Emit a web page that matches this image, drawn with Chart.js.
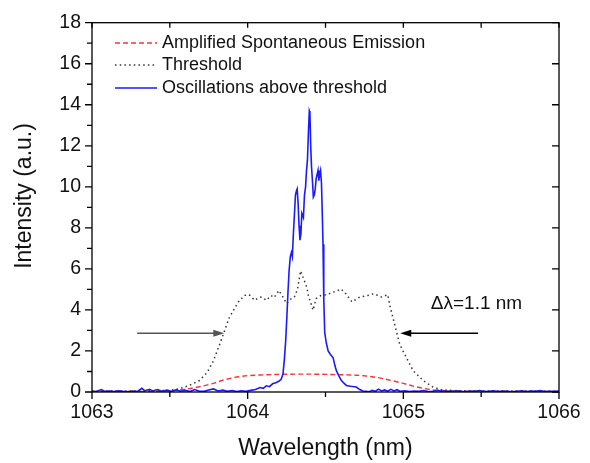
<!DOCTYPE html>
<html>
<head>
<meta charset="utf-8">
<script src="https://cdn.jsdelivr.net/npm/chart.js@4"></script>
<style>
  html, body { margin: 0; padding: 0; background: #fff; }
  #wrap { width: 590px; height: 463px; }
</style>
</head>
<body>
<div id="wrap"><canvas id="myChart" width="590" height="463"></canvas></div>
<script>
// wavelength (nm) / intensity (a.u.)
const aseX = [1063.0, 1063.4, 1063.55, 1063.63, 1063.7, 1063.78, 1063.85, 1063.93, 1064.0, 1064.08, 1064.2, 1064.3, 1064.4, 1064.5, 1064.6, 1064.7, 1064.76, 1064.84, 1064.93, 1065.0, 1065.07, 1065.14, 1065.2, 1065.3, 1065.5, 1066.0];
const aseY = [0.02, 0.03, 0.08, 0.17, 0.27, 0.42, 0.6, 0.73, 0.8, 0.83, 0.86, 0.87, 0.87, 0.86, 0.84, 0.82, 0.78, 0.7, 0.55, 0.42, 0.27, 0.16, 0.09, 0.05, 0.03, 0.02];

const thrX = [1063.0, 1063.2, 1063.4, 1063.5, 1063.56, 1063.62, 1063.69, 1063.74, 1063.78, 1063.82, 1063.85, 1063.88, 1063.91, 1063.94, 1063.98, 1064.01, 1064.045, 1064.07, 1064.09, 1064.12, 1064.15, 1064.17, 1064.2, 1064.22, 1064.25, 1064.28, 1064.3, 1064.32, 1064.34, 1064.36, 1064.38, 1064.39, 1064.41, 1064.42, 1064.44, 1064.47, 1064.51, 1064.55, 1064.58, 1064.6, 1064.63, 1064.67, 1064.72, 1064.77, 1064.81, 1064.86, 1064.9, 1064.913, 1064.945, 1064.977, 1065.02, 1065.063, 1065.127, 1065.19, 1065.25, 1065.35, 1065.5, 1066.0];
const thrY = [0.05, 0.04, 0.06, 0.08, 0.16, 0.3, 0.56, 0.95, 1.52, 2.32, 2.95, 3.59, 4.0, 4.39, 4.71, 4.74, 4.47, 4.6, 4.63, 4.47, 4.7, 4.6, 4.95, 4.71, 4.31, 4.55, 4.63, 5.0, 5.9, 5.5, 5.1, 4.7, 4.23, 3.99, 4.55, 4.7, 4.75, 4.87, 4.95, 5.02, 4.79, 4.39, 4.63, 4.7, 4.79, 4.63, 4.74, 4.23, 3.27, 2.32, 1.67, 1.04, 0.56, 0.24, 0.1, 0.06, 0.05, 0.04];

const oscX = [1063.0, 1063.03, 1063.06, 1063.08, 1063.11, 1063.14, 1063.17, 1063.2, 1063.23, 1063.26, 1063.29, 1063.32, 1063.34, 1063.37, 1063.39, 1063.42, 1063.45, 1063.48, 1063.51, 1063.54, 1063.57, 1063.6, 1063.63, 1063.66, 1063.69, 1063.72, 1063.75, 1063.78, 1063.81, 1063.84, 1063.87, 1063.9, 1063.93, 1063.96, 1063.99, 1064.02, 1064.05, 1064.08, 1064.1, 1064.12, 1064.14, 1064.16, 1064.18, 1064.2, 1064.215, 1064.227, 1064.236, 1064.244, 1064.252, 1064.259, 1064.266, 1064.274, 1064.281, 1064.287, 1064.293, 1064.3, 1064.307, 1064.313, 1064.318, 1064.324, 1064.33, 1064.336, 1064.342, 1064.348, 1064.353, 1064.358, 1064.365, 1064.372, 1064.378, 1064.384, 1064.39, 1064.396, 1064.4, 1064.405, 1064.41, 1064.416, 1064.422, 1064.428, 1064.434, 1064.44, 1064.446, 1064.452, 1064.457, 1064.462, 1064.468, 1064.474, 1064.479, 1064.484, 1064.489, 1064.495, 1064.505, 1064.517, 1064.53, 1064.549, 1064.56, 1064.57, 1064.585, 1064.602, 1064.62, 1064.634, 1064.66, 1064.698, 1064.72, 1064.74, 1064.76, 1064.78, 1064.8, 1064.82, 1064.84, 1064.86, 1064.88, 1064.9, 1064.92, 1064.94, 1064.96, 1064.98, 1065.01, 1065.04, 1065.07, 1065.1, 1065.13, 1065.16, 1065.19, 1065.22, 1065.25, 1065.28, 1065.31, 1065.34, 1065.37, 1065.4, 1065.43, 1065.46, 1065.49, 1065.52, 1065.55, 1065.58, 1065.61, 1065.64, 1065.67, 1065.7, 1065.73, 1065.76, 1065.79, 1065.82, 1065.85, 1065.88, 1065.91, 1065.94, 1065.97, 1066.0];
const oscY = [0.03, 0.02, 0.12, 0.04, 0.05, 0.02, 0.06, 0.03, 0.01, 0.04, 0.02, 0.18, 0.06, 0.13, 0.05, 0.12, 0.04, 0.09, 0.03, 0.1, 0.04, 0.08, 0.02, 0.12, 0.04, 0.03, 0.1, 0.15, 0.05, 0.09, 0.03, 0.07, 0.02, 0.06, 0.03, 0.08, 0.12, 0.22, 0.18, 0.3, 0.26, 0.4, 0.45, 0.52, 0.62, 0.88, 1.6, 2.47, 3.7, 4.87, 5.9, 6.6, 6.8, 6.6, 7.6, 8.6, 9.6, 9.8, 9.9, 9.2, 8.1, 7.4, 7.7, 8.7, 8.6, 8.5, 9.6, 10.0, 10.8, 11.3, 12.6, 13.7, 13.6, 12.0, 11.0, 10.3, 9.5, 9.6, 9.9, 10.4, 10.6, 10.8, 10.3, 10.6, 10.8, 10.2, 8.8, 7.2, 4.5, 2.9, 2.4, 2.0, 1.85, 1.67, 1.3, 1.04, 0.8, 0.56, 0.42, 0.32, 0.28, 0.24, 0.12, 0.05, 0.04, 0.01, 0.08, 0.03, 0.14, 0.05, 0.1, 0.04, 0.13, 0.05, 0.11, 0.03, 0.06, 0.02, 0.05, 0.03, 0.07, 0.02, 0.04, 0.08, 0.03, 0.05, 0.02, 0.06, 0.04, 0.01, 0.05, 0.03, 0.07, 0.02, 0.04, 0.06, 0.02, 0.05, 0.03, 0.01, 0.04, 0.06, 0.02, 0.05, 0.03, 0.07, 0.02, 0.04, 0.03, 0.05, 0.02];

const seriesNames = ['Amplified Spontaneous Emission', 'Threshold', 'Oscillations above threshold'];
const xTicks = [1063, 1064, 1065, 1066];
const yTicks = [0, 2, 4, 6, 8, 10, 12, 14, 16, 18];
const yTitle = 'Intensity (a.u.)';
const widthLabel = '\u0394\u03bb=1.1 nm';
// arrows marking the threshold width: [from, to] in wavelength, at height
const arrowLeft = [1063.29, 1063.85];
const arrowRight = [1065.48, 1064.98];
const arrowY = 2.86;

const FONT = "'Liberation Sans', Arial, sans-serif";

const toPts = (xs, ys) => xs.map((x, i) => ({x: x, y: ys[i]}));

// frame, ticks, legend and annotation
const decor = {
    id: 'decor',
    afterDraw(chart) {
        const ctx = chart.ctx;
        const xs = chart.scales.x, ys = chart.scales.y;
        const a = chart.chartArea;
        ctx.save();
        ctx.strokeStyle = '#000';
        ctx.lineWidth = 1.3;
        ctx.setLineDash([]);
        ctx.strokeRect(a.left, a.top, a.right - a.left, a.bottom - a.top);

        ctx.beginPath();
        for (let v = 1063; v <= 1066.001; v += 0.5) {
            const px = xs.getPixelForValue(v);
            const major = Math.abs(v - Math.round(v)) < 0.01;
            ctx.moveTo(px, a.bottom);
            ctx.lineTo(px, a.bottom + (major ? 7 : 5));
            ctx.moveTo(px, a.top);
            ctx.lineTo(px, a.top + 5);
        }
        for (let v = 0; v <= 18; v += 1) {
            const py = ys.getPixelForValue(v);
            const major = v % 2 === 0;
            ctx.moveTo(a.left, py);
            ctx.lineTo(a.left - (major ? 7 : 5), py);
            if (major) {
                ctx.moveTo(a.right, py);
                ctx.lineTo(a.right - 7, py);
            }
        }
        ctx.stroke();

        // y title (sits a little above the axis centre in the original)
        ctx.save();
        ctx.translate(25, 196);
        ctx.rotate(-Math.PI / 2);
        ctx.font = '23px ' + FONT;
        ctx.fillStyle = '#111';
        ctx.textAlign = 'center';
        ctx.textBaseline = 'middle';
        ctx.fillText(yTitle, 0, 0);
        ctx.restore();

        // legend
        ctx.font = '18px ' + FONT;
        ctx.textBaseline = 'middle';
        ctx.textAlign = 'left';
        const rows = [43, 65, 88];
        chart.data.datasets.forEach((ds, i) => {
            ctx.strokeStyle = ds.borderColor;
            ctx.lineWidth = ds.borderWidth;
            ctx.setLineDash(ds.borderDash || []);
            ctx.beginPath();
            ctx.moveTo(115, rows[i]);
            ctx.lineTo(157, rows[i]);
            ctx.stroke();
            ctx.fillStyle = '#111';
            ctx.fillText(ds.label, 162, rows[i]);
        });
        ctx.setLineDash([]);

        // arrows
        const arrow = (x0, x1, col) => {
            const p0 = xs.getPixelForValue(x0), p1 = xs.getPixelForValue(x1);
            const py = ys.getPixelForValue(arrowY);
            const dir = Math.sign(p1 - p0);
            ctx.strokeStyle = col;
            ctx.fillStyle = col;
            ctx.lineWidth = 1.4;
            ctx.beginPath();
            ctx.moveTo(p0, py);
            ctx.lineTo(p1 - dir * 8, py);
            ctx.stroke();
            ctx.beginPath();
            ctx.moveTo(p1, py);
            ctx.lineTo(p1 - dir * 11, py - 3.5);
            ctx.lineTo(p1 - dir * 11, py + 3.5);
            ctx.closePath();
            ctx.fill();
        };
        arrow(arrowLeft[0], arrowLeft[1], '#555');
        arrow(arrowRight[0], arrowRight[1], '#000');

        ctx.font = '19px ' + FONT;
        ctx.fillStyle = '#111';
        ctx.textAlign = 'center';
        ctx.fillText(widthLabel, xs.getPixelForValue(1065.47), ys.getPixelForValue(4.29));
        ctx.restore();
    }
};

const ctx = document.getElementById('myChart').getContext('2d');
const myChart = new Chart(ctx, {
    type: 'line',
    data: {
        datasets: [{
            label: seriesNames[0],
            data: toPts(aseX, aseY),
            borderColor: '#ff3030',
            borderWidth: 1.4,
            borderDash: [5, 3],
            order: 3
        }, {
            label: seriesNames[1],
            data: toPts(thrX, thrY),
            borderColor: '#333',
            borderWidth: 1.5,
            borderDash: [1.5, 3.2],
            order: 1
        }, {
            label: seriesNames[2],
            data: toPts(oscX, oscY),
            borderColor: '#1a1aff',
            borderWidth: 1.6,
            order: 2
        }]
    },
    options: {
        responsive: false,
        animation: false,
        elements: { point: { radius: 0 }, line: { tension: 0 } },
        layout: { padding: { top: 15, right: 31, left: 0, bottom: 0 } },
        plugins: { legend: { display: false }, tooltip: { enabled: false } },
        scales: {
            x: {
                type: 'linear',
                min: 1063, max: 1066,
                afterFit: (s) => { s.height = 71; },
                afterBuildTicks: (s) => { s.ticks = xTicks.map(v => ({value: v})); },
                grid: { display: false, drawTicks: false },
                border: { display: false },
                ticks: { padding: 9, color: '#111', font: { family: FONT, size: 19.5 }, callback: v => String(v) },
                title: { display: true, text: 'Wavelength (nm)', color: '#111', padding: { top: 0, bottom: 1 }, font: { family: FONT, size: 23 } }
            },
            y: {
                min: 0, max: 18,
                afterFit: (s) => { s.width = 92; },
                afterBuildTicks: (s) => { s.ticks = yTicks.map(v => ({value: v})); },
                grid: { display: false, drawTicks: false },
                border: { display: false },
                ticks: { padding: 11, color: '#111', font: { family: FONT, size: 19.5 } }
            }
        }
    },
    plugins: [decor]
});
</script>
</body>
</html>
